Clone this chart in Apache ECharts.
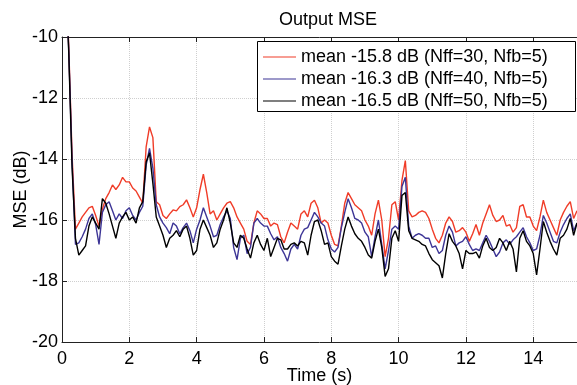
<!DOCTYPE html>
<html>
<head>
<meta charset="utf-8">
<script src="https://cdn.jsdelivr.net/npm/echarts@6/dist/echarts.min.js"></script>
<style>
  html, body { margin: 0; padding: 0; background: #fff; }
  #main { width: 577px; height: 385px; }
</style>
</head>
<body>
<div id="main"></div>
<script>
// sample spacing of the curves (seconds)
var dt = 0.1;

var legendNames = [
    'mean -15.8 dB (Nff=30, Nfb=5)',
    'mean -16.3 dB (Nff=40, Nfb=5)',
    'mean -16.5 dB (Nff=50, Nfb=5)'
];

var xTicks = [0, 2, 4, 6, 8, 10, 12, 14];
var yTicks = [-20, -18, -16, -14, -12, -10];

// Nff=30 (red)
var mse30 = [
    -4, -7.5, -10.3, -13.9, -16.3, -16.1, -15.9, -15.75, -15.6, -15.55,
    -15.85, -16.2, -15.65, -15.3, -15.1, -14.85, -15.0, -14.85, -14.6, -14.75,
    -14.75, -14.95, -15.05, -15.25, -15.45, -13.6, -12.95, -13.3, -15.4, -15.5,
    -15.85, -15.95, -15.8, -15.67, -15.7, -15.56, -15.5, -15.34, -15.6, -15.9,
    -15.6, -15.0, -14.5, -15.1, -15.8, -15.7, -16.0, -15.8, -15.6, -15.45,
    -15.4, -15.6, -15.9, -16.1, -16.3, -16.7, -16.8, -16.1, -15.7, -15.8,
    -15.95, -15.95, -16.2, -16.1, -16.15, -16.55, -16.75, -16.4, -16.1, -16.2,
    -16.3, -15.8, -15.7, -15.9, -15.45, -15.35, -15.6, -16.1, -16.0, -16.1,
    -16.5, -16.8, -16.85, -16.2, -15.45, -15.1, -15.3, -15.5, -15.6, -15.7,
    -16.0, -16.2, -16.5, -15.8, -15.35, -16.0, -17.2, -16.6, -15.5, -15.4,
    -16.0, -14.7, -14.05, -15.7, -15.9, -15.85, -15.75, -15.7, -15.75, -15.95,
    -16.3, -16.6, -16.75, -16.5, -16.1, -15.9, -16.05, -16.4, -16.35, -16.25,
    -16.4, -16.7, -16.45, -16.15, -16.5, -16.1, -15.8, -15.5, -15.85, -16.05,
    -16.0, -15.85, -16.2, -16.15, -16.4, -16.25, -15.55, -15.5, -15.9, -15.9,
    -16.2, -16.35, -15.9, -15.35, -15.75, -16.0, -16.25, -16.5, -16.0, -15.75,
    -15.55, -15.4, -15.95, -15.7
];

// Nff=40 (blue)
var mse40 = [
    -4, -7.6, -10.4, -14.1, -16.8, -16.75, -16.55, -16.3, -15.95, -15.8,
    -16.15, -16.8, -15.75, -15.5, -15.4, -15.7, -16.0, -15.8, -15.95, -15.7,
    -15.6, -15.85, -16.0, -15.75, -15.55, -14.2, -13.65, -14.3, -15.5, -15.9,
    -16.1, -16.25, -16.45, -16.1, -16.2, -16.45, -16.25, -16.1, -16.35, -16.75,
    -16.3, -16.0, -15.6, -15.9, -16.2, -16.55, -16.5, -16.15, -15.9, -15.7,
    -15.95, -16.9, -17.3, -16.6, -16.5, -17.1, -16.9, -16.1, -15.95, -16.1,
    -16.2, -16.2, -16.45, -16.65, -16.55, -16.9, -17.1, -17.35, -16.95, -16.8,
    -16.95, -16.5, -16.3, -16.25, -16.0, -15.75, -15.9, -16.1, -16.2, -16.65,
    -16.95, -17.05, -16.9, -16.25, -15.75, -15.3, -15.6, -15.95, -16.0, -16.1,
    -16.4, -16.55, -17.2, -16.55, -16.0, -16.8, -17.6, -17.0, -16.3, -16.2,
    -16.3, -14.9, -14.6, -16.2, -16.6, -16.5, -16.45, -16.5, -16.6, -16.6,
    -16.9, -16.85, -17.1, -17.0, -16.5, -16.2, -16.4, -16.85, -16.75, -16.7,
    -16.55, -16.8, -17.0, -16.95, -17.0, -16.75, -16.5, -16.7, -16.95, -17.2,
    -17.05, -16.75, -16.65, -16.8, -16.65, -16.55, -16.4, -16.25, -16.55, -16.75,
    -17.0, -16.95, -16.5, -15.85, -16.1, -16.4, -16.7, -16.75, -16.4, -16.15,
    -15.95, -15.8, -16.35, -16.1
];

// Nff=50 (black)
var mse50 = [
    -4, -7.7, -10.5, -14.3, -16.6, -17.15, -17.0, -16.85, -16.2, -15.9,
    -16.1, -16.3, -15.3, -15.45, -15.8, -16.2, -16.6, -16.1, -15.9, -15.75,
    -16.0, -15.9, -16.1, -15.6, -15.4, -14.1, -13.8, -14.8, -15.9, -16.2,
    -16.5, -16.9, -16.6, -16.5, -16.35, -16.55, -16.3, -16.2, -16.6, -17.15,
    -17.0, -16.3, -16.0, -16.25, -16.5, -16.9, -16.75, -16.3, -16.0, -15.6,
    -16.1, -16.75, -16.9, -16.5, -16.6, -16.95, -17.25, -16.75, -16.5, -16.8,
    -17.0, -16.6, -17.2, -16.9, -16.6, -16.65, -16.95, -16.95, -16.8, -16.75,
    -16.85, -16.7, -16.75, -17.15, -16.5, -16.05, -16.0, -16.35, -16.8, -16.75,
    -17.2, -17.35, -17.45, -16.85, -16.3, -15.9, -16.2, -16.45, -16.6, -16.7,
    -16.9, -17.15, -17.25, -16.7, -16.3, -16.9, -17.85, -17.6, -16.6, -16.35,
    -16.7, -15.2, -15.1, -16.35, -16.6, -16.65, -16.7, -16.8, -16.85, -17.1,
    -17.3, -17.4, -17.5, -17.9, -17.1, -16.45, -16.7, -16.85, -17.1, -17.6,
    -17.0, -17.1, -17.1, -17.05, -17.25, -16.85, -16.6, -16.9, -17.0, -16.9,
    -16.6, -16.75, -17.0, -16.7, -16.95, -17.7, -16.6, -16.35, -16.7, -16.85,
    -17.1, -17.8, -16.95, -16.05, -16.4, -16.7, -16.95, -17.15, -16.6, -16.5,
    -16.3, -15.95, -16.5, -16.1
];

var lineColors = ['#f03c28', '#3d3596', '#000000'];
var FONT = "'Liberation Sans', Arial, sans-serif";

function toPairs(values) {
    var out = [];
    for (var i = 0; i < values.length; i++) {
        out.push([+(i * dt).toFixed(2), values[i]]);
    }
    return out;
}

function makeSeries(idx, values) {
    return {
        name: legendNames[idx],
        type: 'line',
        data: toPairs(values),
        showSymbol: false,
        symbol: 'none',
        animation: false,
        clip: true,
        lineStyle: { color: lineColors[idx], width: 1.4 },
        itemStyle: { color: lineColors[idx] }
    };
}

var myChart = echarts.init(document.getElementById('main'));

var option = {
    backgroundColor: '#fff',
    animation: false,
    title: {
        text: 'Output MSE',
        left: 323,
        top: 6,
        textAlign: 'center',
        textStyle: { fontFamily: FONT, fontSize: 18, fontWeight: 'normal', color: '#000' }
    },
    // legend frame (white box with black border)
    graphic: [
        {
            type: 'rect',
            left: 257,
            top: 41,
            z: 90,
            shape: { width: 318, height: 70 },
            style: { fill: '#fff', stroke: '#000', lineWidth: 1 }
        }
    ],
    legend: {
        orient: 'vertical',
        left: 257,
        top: 41,
        z: 100,
        padding: [6, 0, 0, 6],
        icon: 'rect',
        itemWidth: 33,
        itemHeight: 1,
        itemGap: 2,
        data: legendNames,
        textStyle: { fontFamily: FONT, fontSize: 18, color: '#000', lineHeight: 20 }
    },
    grid: {
        left: 62,
        right: 0,
        top: 37,
        bottom: 43,
        outerBoundsMode: 'none'
    },
    xAxis: [
        {
            type: 'value',
            min: 0,
            max: 15.3,
            interval: 2,
            name: 'Time (s)',
            nameLocation: 'middle',
            nameGap: 25,
            nameMoveOverlap: false,
            nameTextStyle: { fontFamily: FONT, fontSize: 18, color: '#000' },
            axisLine: { lineStyle: { color: '#222', width: 1 } },
            axisTick: { inside: true, length: 5, lineStyle: { color: '#222' } },
            axisLabel: {
                fontFamily: FONT, fontSize: 18, color: '#000', margin: 8,
                formatter: function (v) { return xTicks.indexOf(v) >= 0 ? String(v) : ''; }
            },
            splitLine: { show: true, lineStyle: { color: '#cfcfcf', type: 'dotted', width: 1 } }
        },
        {
            type: 'value',
            position: 'top',
            min: 0,
            max: 15.3,
            interval: 2,
            axisLine: { show: true, onZero: false, lineStyle: { color: '#222', width: 1 } },
            axisTick: { show: true, inside: true, length: 5, lineStyle: { color: '#222' } },
            axisLabel: { show: false },
            splitLine: { show: false }
        }
    ],
    yAxis: [
        {
            type: 'value',
            min: yTicks[0],
            max: yTicks[yTicks.length - 1],
            interval: 2,
            name: 'MSE (dB)',
            nameLocation: 'middle',
            nameGap: 32,
            nameMoveOverlap: false,
            nameTextStyle: { fontFamily: FONT, fontSize: 18, color: '#000' },
            axisLine: { show: true, lineStyle: { color: '#222', width: 1 } },
            axisTick: { show: true, inside: true, length: 5, lineStyle: { color: '#222' } },
            axisLabel: { fontFamily: FONT, fontSize: 18, color: '#000', margin: 4 },
            splitLine: { show: true, lineStyle: { color: '#cfcfcf', type: 'dotted', width: 1 } }
        }
    ],
    series: [
        makeSeries(0, mse30),
        makeSeries(1, mse40),
        makeSeries(2, mse50)
    ]
};

myChart.setOption(option);
</script>
</body>
</html>
